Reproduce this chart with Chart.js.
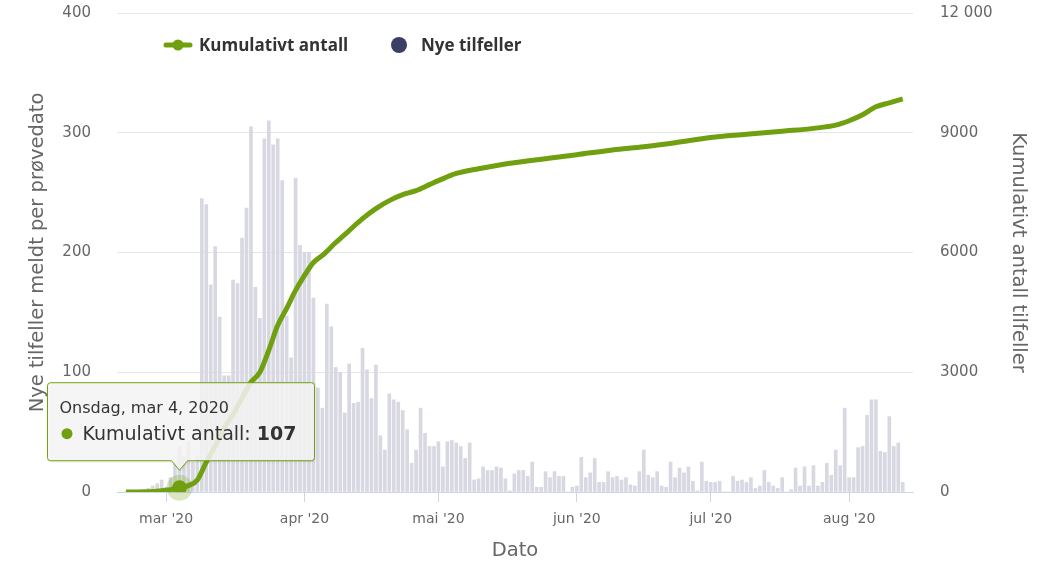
<!DOCTYPE html>
<html>
<head>
<meta charset="utf-8">
<script src="https://cdn.jsdelivr.net/npm/chart.js@4.4.1/dist/chart.umd.min.js"></script>
<style>
html,body{margin:0;padding:0;background:#fff;}
#wrap{width:1046px;height:561px;position:relative;}
</style>
</head>
<body>
<div id="wrap"><canvas id="c" width="1046" height="561"></canvas></div>
<script>
// ---- Data (day index relative to 1 March 2020) ----
const firstDay = -9; // 21 Feb 2020
const febValues = [0,0,0,1,2,3,5,7,10]; // 21-29 Feb
const marValues = [4,12,25,38,30,42,25,30,245,240,173,205,146,97,97,177,174,212,237,305,171,145,295,310,290,295,260,147,112,262,206];
const aprValues = [200,200,162,87,70,157,138,104,100,66,107,74,75,120,102,78,106,47,35,82,77,75,68,52,24,35,70,49,38,38];
const mayValues = [42,21,42,43,41,38,28,41,10,11,21,18,18,21,20,11,1,15,18,18,13,25,4,4,17,12,17,13,13,0,4];
const junValues = [5,29,12,16,28,8,8,17,12,13,10,12,6,5,17,35,14,12,17,5,4,25,12,20,16,21,9,1,25,9];
const julValues = [8,8,9,0,0,13,9,10,8,12,3,5,18,8,5,3,12,0,2,20,5,21,5,22,5,8,24,14,35,22,70];
const augValues = [12,12,37,38,64,77,77,34,33,63,38,41,8];

const cumDays   = [-9,-4,-1,1,3,5,7,9,11,13,15,17,19,21,23,25,27,29,31,33,35,38,41,44,47,50,53,56,59,61,65,70,75,80,85,92,100,107,114,122,130,138,145,150,153,156,159,162,165];
const cumValues = [0,5,30,60,107,160,300,750,1150,1600,1950,2350,2750,3000,3550,4175,4600,5050,5425,5750,5925,6250,6550,6850,7100,7300,7450,7550,7700,7800,7980,8100,8200,8280,8350,8450,8570,8650,8750,8880,8960,9040,9110,9190,9300,9450,9650,9750,9850];

const monthTickDays   = [0,31,61,92,122,153];
const monthTickLabels = ["mar '20","apr '20","mai '20","jun '20","jul '20","aug '20"];
const leftTickValues  = [0,100,200,300,400];
const leftTickLabels  = ['0','100','200','300','400'];
const rightTickValues = [0,3000,6000,9000,12000];
const rightTickLabels = ['0','3000','6000','9000','12 000'];

const tooltipDay = 3;
const tooltipTitle = 'Onsdag, mar 4, 2020';
const seriesNames = ['Kumulativt antall','Nye tilfeller'];
const axisTitles = {x:'Dato', left:'Nye tilfeller meldt per prøvedato', right:'Kumulativt antall tilfeller'};

// ---- Styles ----
const GREEN = '#70a00f';
const BAR = '#d8d8e2';
const NAVY = '#3b3f66';

const newCases = [].concat(febValues, marValues, aprValues, mayValues, junValues, julValues, augValues);
const barData = newCases.map((v,i)=>({x:firstDay+i, y:v}));
const lineData = cumDays.map((d,i)=>({x:d, y:cumValues[i]}));

const legendPlugin = {
  id:'customLegend',
  afterDraw(chart){
    const c = chart.ctx;
    c.save();
    c.strokeStyle = GREEN; c.lineWidth = 5; c.lineCap='round';
    c.beginPath(); c.moveTo(166,45); c.lineTo(190,45); c.stroke();
    c.fillStyle = GREEN; c.beginPath(); c.arc(178,45,5.5,0,Math.PI*2); c.fill();
    c.font = 'bold 17px "Open Sans"'; c.fillStyle = '#333333'; c.textBaseline='middle'; c.textAlign='left';
    c.fillText(chart.data.datasets[0].label, 199, 46);
    c.fillStyle = NAVY; c.beginPath(); c.arc(399,45,8,0,Math.PI*2); c.fill();
    c.fillStyle = '#333333';
    c.fillText(chart.data.datasets[1].label, 421, 46);
    c.restore();
  }
};

const haloPlugin = {
  id:'halo',
  beforeDatasetDraw(chart, args){
    if (args.index !== 0) return;
    const px = chart.scales.x.getPixelForValue(tooltipDay);
    const val = cumValues[cumDays.indexOf(tooltipDay)];
    const py = chart.scales.y2.getPixelForValue(val);
    const c = chart.ctx; c.save();
    c.fillStyle = 'rgba(112,160,15,0.25)';
    c.beginPath(); c.arc(px,py,13,0,Math.PI*2); c.fill();
    c.restore();
  }
};

const tooltipPlugin = {
  id:'staticTooltip',
  afterDraw(chart){
    const c = chart.ctx;
    const px = chart.scales.x.getPixelForValue(tooltipDay);
    const val = cumValues[cumDays.indexOf(tooltipDay)];
    const py = chart.scales.y2.getPixelForValue(val);
    const L = px-132, R = px+135, T = py-105, B = py-27, r = 3;
    const tipY = py-17.5;
    c.save();
    const path = () => {
      c.beginPath();
      c.moveTo(L+r,T); c.lineTo(R-r,T); c.quadraticCurveTo(R,T,R,T+r);
      c.lineTo(R,B-r); c.quadraticCurveTo(R,B,R-r,B);
      c.lineTo(px+8,B); c.lineTo(px,tipY); c.lineTo(px-8,B);
      c.lineTo(L+r,B); c.quadraticCurveTo(L,B,L,B-r);
      c.lineTo(L,T+r); c.quadraticCurveTo(L,T,L+r,T); c.closePath();
    };
    c.shadowColor='rgba(0,0,0,0.12)'; c.shadowOffsetX=1; c.shadowOffsetY=1; c.shadowBlur=3;
    path(); c.fillStyle='rgba(247,247,247,0.85)'; c.fill();
    c.shadowColor='transparent';
    c.lineWidth=1; c.strokeStyle=GREEN; path(); c.stroke();
    c.textBaseline='middle'; c.textAlign='left';
    c.fillStyle='#333333'; c.font='16px "DejaVu Sans"';
    c.fillText(tooltipTitle, L+12, T+26);
    c.fillStyle=GREEN; c.beginPath(); c.arc(L+19.5, T+51, 5.5, 0, Math.PI*2); c.fill();
    c.fillStyle='#333333'; c.font='19px "DejaVu Sans"';
    const lab = seriesNames[0] + ': ';
    c.fillText(lab, L+35, T+52);
    const w = c.measureText(lab).width;
    c.font='bold 19px "DejaVu Sans"';
    c.fillText(String(val), L+35+w, T+52);
    c.restore();
  }
};

new Chart(document.getElementById('c'), {
  data:{
    datasets:[
      {type:'line', label:seriesNames[0], data:lineData, yAxisID:'y2', borderColor:GREEN, borderWidth:5,
       backgroundColor:GREEN, cubicInterpolationMode:'monotone', order:0,
       pointRadius:(ctx)=> (ctx.raw && ctx.raw.x===tooltipDay) ? 7.5 : 0,
       pointBackgroundColor:GREEN, pointBorderWidth:0, pointHoverRadius:0},
      {type:'bar', label:seriesNames[1], data:barData, yAxisID:'y', backgroundColor:BAR,
       borderWidth:0, barThickness:3, order:1}
    ]
  },
  options:{
    responsive:false, animation:false, events:[],
    layout:{padding:{top:13,left:0,right:0,bottom:0}},
    plugins:{legend:{display:false}, tooltip:{enabled:false}},
    scales:{
      x:{type:'linear', min:-11, max:167.3, offset:false,
        afterBuildTicks:(s)=>{ s.ticks = monthTickDays.map(v=>({value:v})); },
        afterFit:(s)=>{ s.height = 69; },
        ticks:{callback:(v,i)=>monthTickLabels[i], color:'#666666', font:{family:'DejaVu Sans', size:14}, padding:9, maxRotation:0, autoSkip:false},
        grid:{offset:false, drawOnChartArea:false, drawTicks:true, tickLength:10, color:'#ccd6eb'},
        border:{color:'#ccd6eb', width:1},
        title:{display:true, text:axisTitles.x, color:'#666666', font:{family:'DejaVu Sans', size:19.5, lineHeight:1.0}, padding:{top:0,bottom:0}}
      },
      y:{position:'left', min:0, max:400,
        afterBuildTicks:(s)=>{ s.ticks = leftTickValues.map(v=>({value:v})); },
        afterFit:(s)=>{ s.width = 117; },
        ticks:{callback:(v,i)=>leftTickLabels[i], color:'#666666', font:{family:'DejaVu Sans', size:15}, padding:2},
        grid:{drawTicks:true, tickLength:24, tickColor:'rgba(0,0,0,0)', color:(c)=> (c.tick && c.tick.value===0) ? 'rgba(0,0,0,0)' : '#e6e6e6'},
        border:{display:false},
        title:{display:true, text:axisTitles.left, color:'#666666', font:{family:'DejaVu Sans', size:19.5, lineHeight:1.2}, padding:{top:26,bottom:0}}
      },
      y2:{position:'right', min:0, max:12000,
        afterBuildTicks:(s)=>{ s.ticks = rightTickValues.map(v=>({value:v})); },
        afterFit:(s)=>{ s.width = 133; },
        ticks:{callback:(v,i)=>rightTickLabels[i], color:'#666666', font:{family:'DejaVu Sans', size:15}, padding:2},
        grid:{drawOnChartArea:false, drawTicks:true, tickLength:25, tickColor:'rgba(0,0,0,0)'},
        border:{display:false},
        title:{display:true, text:axisTitles.right, color:'#666666', font:{family:'DejaVu Sans', size:19.5, lineHeight:1.2}, padding:{top:16,bottom:0}}
      }
    }
  },
  plugins:[haloPlugin, legendPlugin, tooltipPlugin]
});
</script>
</body>
</html>
